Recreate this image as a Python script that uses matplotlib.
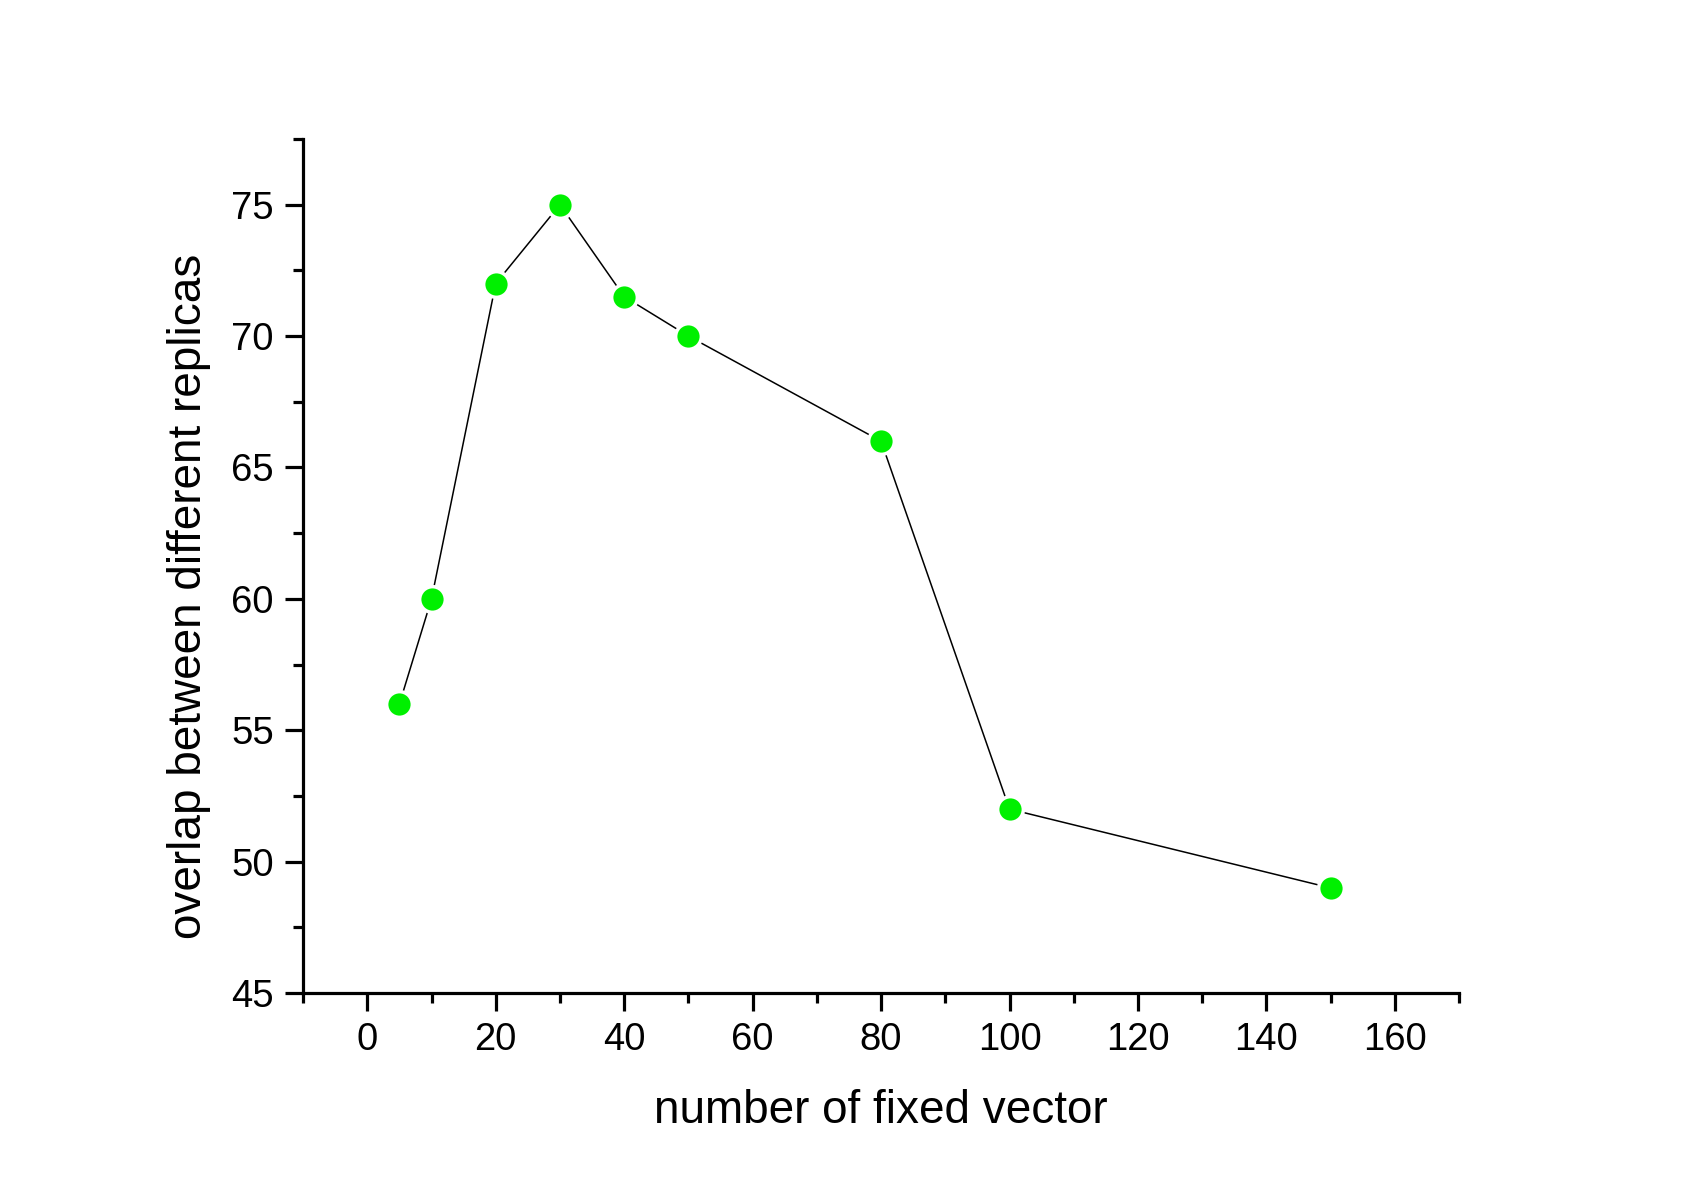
import matplotlib
matplotlib.use('Agg')
import matplotlib.pyplot as plt
from matplotlib.ticker import MultipleLocator

plt.rcParams['font.family'] = ['Liberation Sans', 'DejaVu Sans']

# data
n_fixed = [5, 10, 20, 30, 40, 50, 80, 100, 150]
overlap = [56, 60, 72, 75, 71.5, 70, 66, 52, 49]

fig = plt.figure(figsize=(16.96, 11.92), dpi=100)
ax = fig.add_axes([0.1787, 0.1669, 0.8603 - 0.1787, 0.8834 - 0.1669])

ax.plot(n_fixed, overlap, color='black', linewidth=1.1, zorder=1)
ax.plot(n_fixed, overlap, linestyle='none', marker='o', markersize=18.5,
        markerfacecolor='#00f000', markeredgecolor='white', markeredgewidth=2.5,
        zorder=2)

ax.set_xlim(-10, 170)
ax.set_ylim(45, 77.5)
ax.xaxis.set_major_locator(MultipleLocator(20))
ax.xaxis.set_minor_locator(MultipleLocator(10))
ax.yaxis.set_major_locator(MultipleLocator(5))
ax.yaxis.set_minor_locator(MultipleLocator(2.5))

for side in ['top', 'right']:
    ax.spines[side].set_visible(False)
for side in ['left', 'bottom']:
    ax.spines[side].set_linewidth(2.3)

ax.tick_params(which='major', direction='out', length=13, width=2.3, labelsize=27.5, pad=8)
ax.tick_params(which='minor', direction='out', length=7, width=2.3)

ax.set_xlabel('number of fixed vector', fontsize=33, labelpad=22)
ax.set_ylabel('overlap between different replicas', fontsize=33)
ax.yaxis.set_label_coords(-0.080, 0.465)

fig.savefig('out.png', dpi=100)
